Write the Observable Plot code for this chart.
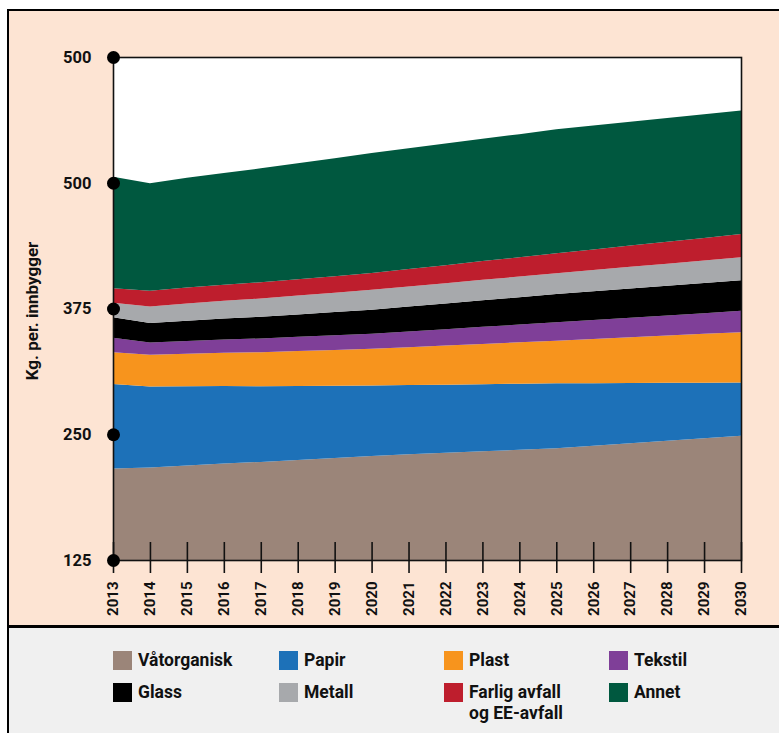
<!DOCTYPE html>
<html>
<head>
<meta charset="utf-8">
<script src="https://cdn.jsdelivr.net/npm/d3@7"></script>
<script src="https://cdn.jsdelivr.net/npm/@observablehq/plot@0.6"></script>
<style>
  html, body { margin: 0; padding: 0; background: #fff; overflow: hidden; width: 779px; height: 733px; }
  #bg { position: absolute; left: 7px; top: 9px; width: 790px; height: 617px; background: #fde4d3;
        border-left: 2.5px solid #000; border-top: 2.5px solid #000; box-sizing: border-box; }
  #legendbox { position: absolute; left: 7px; top: 625px; width: 790px; height: 120px; background: #f0f0f0;
        border-left: 2.5px solid #000; border-top: 3px solid #000; box-sizing: border-box; }
  #chart { position: absolute; left: 0; top: 0; }
  #legend { position: absolute; left: 113px; top: 651px; display: grid;
        grid-template-columns: 166px 165px 165px 140px; row-gap: 12px;
        font-family: Roboto, sans-serif; font-weight: 700; font-size: 17.5px; color: #111; }
  .item { display: flex; align-items: flex-start; }
  .sw { width: 19px; height: 19px; flex: none; margin-top: 0px; }
  .lab { margin-left: 6px; line-height: 21px; margin-top: -1px; white-space: pre-line; }
</style>
</head>
<body>
<div id="bg"></div>
<div id="legendbox"></div>
<div id="chart"></div>
<div id="legend"></div>
<script>
// ---- data (kg per innbygger) ----
const years = [2013, 2014, 2015, 2016, 2017, 2018, 2019, 2020, 2021, 2022, 2023, 2024, 2025, 2026, 2027, 2028, 2029, 2030];
const categories = ["Våtorganisk", "Papir", "Plast", "Tekstil", "Glass", "Metall", "Farlig avfall og EE-avfall", "Annet"];
const legendLabels = ["Våtorganisk", "Papir", "Plast", "Tekstil", "Glass", "Metall", "Farlig avfall\nog EE-avfall", "Annet"];
const colors = ["#9b8579", "#1d71b8", "#f7941d", "#7f3f98", "#000000", "#a7a9ac", "#be1e2d", "#00583f"];

const vatorganisk = [216, 217, 219, 221, 222.5, 224.5, 226.5, 228.5, 230, 231.5, 233, 234.5, 236, 238.5, 241, 243.5, 246, 248.5];
const papir       = [84, 80.5, 78.8, 77, 75.2, 73.4, 71.7, 70, 68.9, 67.8, 66.8, 65.7, 64.6, 62.3, 59.9, 57.6, 55.2, 52.9];
const plast       = [31.5, 31.5, 32.3, 33.1, 33.9, 34.8, 35.6, 36.4, 37.6, 38.8, 40, 41.2, 42.4, 43.9, 45.5, 47, 48.6, 50.1];
const tekstil     = [14.5, 12.2, 12.7, 13.1, 13.6, 14.1, 14.5, 15.0, 15.7, 16.3, 17.0, 17.6, 18.3, 18.9, 19.5, 20.0, 20.6, 21.2];
const glass       = [20.3, 19.3, 20.1, 20.8, 21.6, 22.3, 23.1, 23.8, 24.7, 25.5, 26.4, 27.2, 28.1, 28.6, 29.1, 29.5, 30.0, 30.5];
const metall      = [14.5, 16.5, 17.1, 17.6, 18.2, 18.8, 19.3, 19.9, 20.0, 20.2, 20.3, 20.5, 20.6, 21.0, 21.4, 21.9, 22.3, 22.7];
const farlig      = [14.3, 15.6, 15.8, 15.9, 16.1, 16.3, 16.4, 16.6, 17.3, 17.9, 18.6, 19.2, 19.9, 20.5, 21.2, 21.8, 22.5, 23.1];
const annet       = [110.9, 107.0, 109.1, 111.1, 113.2, 115.2, 117.3, 119.3, 120.1, 120.9, 121.6, 122.4, 123.2, 123.1, 123.0, 123.0, 122.9, 122.8];

const yTickValues = [125, 250, 375, 500, 625];
const yTickLabels = ["125", "250", "375", "500", "500"];
const yLabel = "Kg. per. innbygger";

// ---- long table for the library ----
const series = [vatorganisk, papir, plast, tekstil, glass, metall, farlig, annet];
const table = [];
categories.forEach((c, ci) => years.forEach((yr, i) => table.push({year: yr, category: c, value: series[ci][i]})));

const chart = Plot.plot({
  width: 779,
  height: 626,
  marginLeft: 113,
  marginRight: 38,
  marginTop: 57,
  marginBottom: 66,
  style: {background: "transparent", fontFamily: "Roboto, sans-serif", fontWeight: "bold", color: "#111"},
  x: {domain: [years[0], years[years.length - 1]], axis: null},
  y: {domain: [yTickValues[0], yTickValues[yTickValues.length - 1]], axis: null},
  color: {domain: categories, range: colors},
  marks: [
    Plot.frame({fill: "white", stroke: null}),
    Plot.areaY(table, {x: "year", y: "value", z: "category", fill: "category", order: categories, clip: true}),
    Plot.frame({stroke: "#111", strokeWidth: 1.6}),
    Plot.ruleX(years, {x: d => d, y1: yTickValues[0], y2: yTickValues[0], insetTop: -18, insetBottom: -13, stroke: "#111", strokeWidth: 1.6}),
    Plot.axisX({ticks: years, tickFormat: d => String(d), tickSize: 0, tickPadding: 21, tickRotate: -90, fontSize: 15, fontWeight: "bold", label: null}),
    Plot.axisY({ticks: yTickValues, tickFormat: (d, i) => yTickLabels[i], tickSize: 0, tickPadding: 22, fontSize: 16.5, fontWeight: "bold", label: null}),
    Plot.dot(yTickValues, {y: d => d, frameAnchor: "left", r: 6.5, fill: "#000", stroke: null}),
    Plot.text([yLabel], {frameAnchor: "left", dx: -81, dy: 2, rotate: -90, textAnchor: "middle", fontSize: 17, fontWeight: "bold", fill: "#111"})
  ]
});
document.getElementById("chart").appendChild(chart);

// ---- legend ----
const legend = d3.select("#legend");
categories.forEach((c, i) => {
  const it = legend.append("div").attr("class", "item");
  it.append("div").attr("class", "sw").style("background", colors[i]);
  it.append("div").attr("class", "lab").text(legendLabels[i]);
});
</script>
</body>
</html>
